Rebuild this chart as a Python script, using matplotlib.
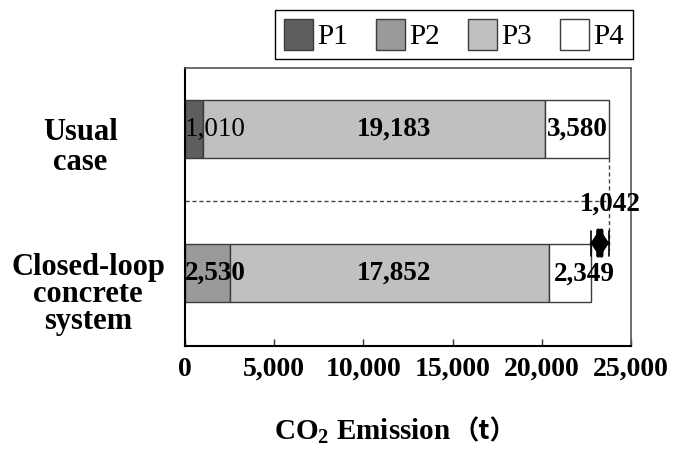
import matplotlib
matplotlib.use('Agg')
import matplotlib.pyplot as plt
from matplotlib.patches import Patch

plt.rcParams['font.family'] = ['Liberation Serif', 'DejaVu Serif']
plt.rcParams['mathtext.fontset'] = 'custom'
plt.rcParams['mathtext.rm'] = 'Liberation Serif:bold'
plt.rcParams['mathtext.bf'] = 'Liberation Serif:bold'

# data (t CO2)
cases = ['Usual\ncase', 'Closed-loop\nconcrete\nsystem']
phases = ['P1', 'P2', 'P3', 'P4']
p1 = [1010, 0]
p2 = [0, 2530]
p3 = [19183, 17852]
p4 = [3580, 2349]
xticks = [0, 5000, 10000, 15000, 20000, 25000]

colors = ['#5e5e5e', '#9a9a9a', '#c0c0c0', '#ffffff']
edge = '#3c3c3c'
ypos = [1, 0]
bh = 0.403

fig = plt.figure(figsize=(6.81, 4.53), dpi=100)
ax = fig.add_axes([0.2717, 0.2362, 0.6549, 0.6137])

left = [0, 0]
for vals, c in zip([p1, p2, p3, p4], colors):
    ax.barh(ypos, vals, height=bh, left=left, color=c, edgecolor=edge, linewidth=1)
    left = [l + v for l, v in zip(left, vals)]
totals = left

ax.set_xlim(0, 25000)
ax.set_ylim(-0.507, 1.424)
ax.set_xticks(xticks)
ax.set_xticklabels(['{:,}'.format(t) for t in xticks], fontsize=20, fontweight='bold')
ax.tick_params(axis='x', direction='in', length=5, width=1, pad=8, colors='#333333', labelcolor='black')
ax.set_yticks([])
for s in ['left', 'bottom']:
    ax.spines[s].set_color('black')
    ax.spines[s].set_linewidth(1.5)
for s in ['top', 'right']:
    ax.spines[s].set_color('#555555')
    ax.spines[s].set_linewidth(1.2)

# category labels
ax.text(-0.235, 0.87, cases[0], transform=ax.get_yaxis_transform(), ha='center', va='center',
        fontsize=22, fontweight='bold', linespacing=1.05)
ax.text(-0.2175, -0.15, cases[1], transform=ax.get_yaxis_transform(), ha='center', va='center',
        fontsize=22, fontweight='bold', linespacing=0.9)

# segment labels
ax.text(0, ypos[0], '{:,}'.format(p1[0]), ha='left', va='center', fontsize=19.5)
ax.text(0, ypos[1], '{:,}'.format(p2[1]), ha='left', va='center', fontsize=19.5, fontweight='bold')
ax.annotate('{:,}'.format(p3[0]), (p1[0] + p3[0] / 2, ypos[0]), xytext=(14, 0), textcoords='offset points',
            ha='center', va='center', fontsize=19.5, fontweight='bold')
ax.annotate('{:,}'.format(p3[1]), (p2[1] + p3[1] / 2, ypos[1]), xytext=(3, 0), textcoords='offset points',
            ha='center', va='center', fontsize=19.5, fontweight='bold')
ax.annotate('{:,}'.format(p4[0]), (totals[0] - p4[0] / 2, ypos[0]), xytext=(0, 0), textcoords='offset points',
            ha='center', va='center', fontsize=19.5, fontweight='bold')
ax.annotate('{:,}'.format(p4[1]), (totals[1] - p4[1] / 2, ypos[1]), xytext=(11, -1), textcoords='offset points',
            ha='center', va='center', fontsize=19.5, fontweight='bold')

# difference marker
diff = totals[0] - totals[1]
ax.plot([0, totals[0]], [0.5, 0.5], ls=(0, (3, 2)), color='#444444', lw=1)
ax.plot([totals[0], totals[0]], [ypos[0] - bh / 2, 0.16], ls=(0, (3, 2)), color='#444444', lw=1)
ax.annotate('', xy=(totals[1], 0.208), xytext=(totals[0], 0.208),
            arrowprops=dict(arrowstyle='<|-|>,head_length=0.3,head_width=0.45', mutation_scale=20,
                            color='black', lw=3, shrinkA=0, shrinkB=0))
ax.annotate('', xy=(totals[1], 0.208), xytext=(totals[0], 0.208),
            arrowprops=dict(arrowstyle='|-|,widthA=0.45,widthB=0.45', mutation_scale=20,
                            color='black', lw=1.2, shrinkA=0, shrinkB=0))
ax.annotate('{:,}'.format(diff), (totals[0], 0.5), xytext=(1, -2), textcoords='offset points',
            ha='center', va='center', fontsize=19.5, fontweight='bold')

# legend
handles = [Patch(facecolor=c, edgecolor=edge, linewidth=1) for c in colors]
fig.legend(handles, phases, loc='upper right', bbox_to_anchor=(0.929, 0.977), ncol=4,
           fontsize=21, frameon=True, fancybox=False, edgecolor='black', framealpha=1,
           handlelength=1.0, handleheight=1.25, handletextpad=0.15, columnspacing=0.95,
           borderpad=0.3, borderaxespad=0)

# x label: CO2 Emission（t）
fig.text(0.662, 0.03, r'CO$_2$ Emission', ha='right', va='baseline', fontsize=21, fontweight='bold')
fig.text(0.664, 0.03, '（t）', ha='left', va='baseline', fontsize=19, fontweight='bold',
         family=['Noto Sans CJK JP', 'DejaVu Sans'])

fig.savefig('out.png', dpi=100)
